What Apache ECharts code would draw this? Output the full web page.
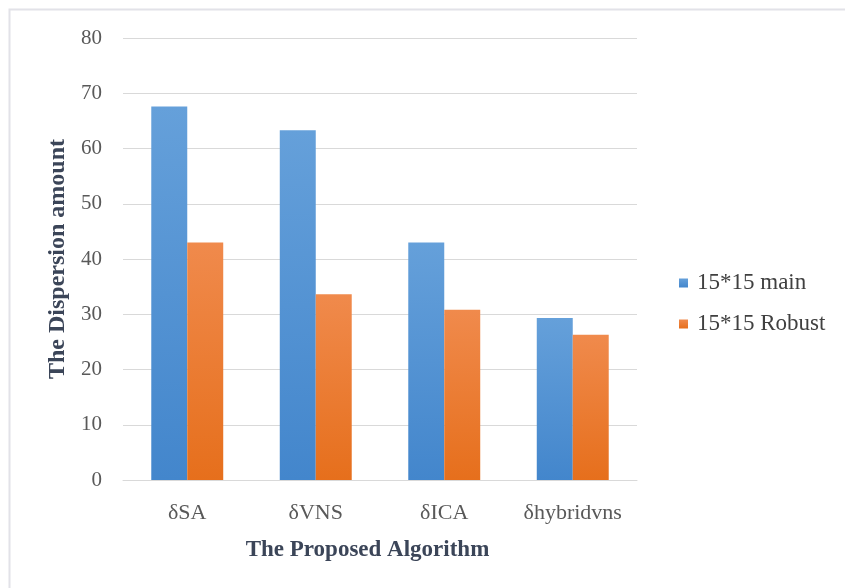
<!DOCTYPE html>
<html>
<head>
<meta charset="utf-8">
<script src="https://cdn.jsdelivr.net/npm/echarts@6/dist/echarts.min.js"></script>
<style>
  html, body { margin: 0; padding: 0; background: #ffffff; }
  #chart { width: 845px; height: 588px; }
</style>
</head>
<body>
<div id="chart"></div>
<script>
// Algorithms compared and their dispersion values
const categories = ['δSA', 'δVNS', 'δICA', 'δhybridvns'];
const mainValues = [67.6, 63.3, 43.0, 29.3];
const robustValues = [43.0, 33.6, 30.8, 26.3];
const seriesNames = ['15*15 main', '15*15 Robust'];
const yTicks = { min: 0, max: 80, interval: 10 };

const serif = '"Liberation Serif", "Times New Roman", serif';

const chart = echarts.init(document.getElementById('chart'));

function grad(top, bottom) {
  return new echarts.graphic.LinearGradient(0, 0, 0, 1, [
    { offset: 0, color: top },
    { offset: 1, color: bottom }
  ]);
}

chart.setOption({
  backgroundColor: '#ffffff',
  animation: false,
  graphic: [{
    type: 'rect',
    shape: { x: 9.5, y: 9.5, width: 900, height: 700 },
    style: { fill: 'none', stroke: '#e2e2e8', lineWidth: 2 },
    silent: true
  }],
  grid: { left: 123, right: 208, top: 38, bottom: 108 },
  legend: {
    orient: 'vertical',
    left: 674,
    top: 266,
    itemWidth: 9,
    itemHeight: 9,
    itemGap: 17,
    icon: 'rect',
    data: seriesNames,
    textStyle: { fontFamily: serif, fontSize: 23, color: '#404040', lineHeight: 24, padding: [0, 0, 0, 4] }
  },
  xAxis: {
    type: 'category',
    data: categories,
    name: 'The Proposed Algorithm',
    nameLocation: 'middle',
    nameGap: 59,
    nameTextStyle: { fontFamily: serif, fontSize: 23, fontWeight: 'bold', color: '#3b4558', padding: [0, 25, 0, 0] },
    axisLine: { show: true, lineStyle: { color: '#d9d9d9', width: 1 } },
    axisTick: { show: false },
    axisLabel: { fontFamily: serif, fontSize: 22, color: '#595959', margin: 22 }
  },
  yAxis: {
    type: 'value',
    min: yTicks.min,
    max: yTicks.max,
    interval: yTicks.interval,
    name: 'The Dispersion amount',
    nameLocation: 'middle',
    nameGap: 53,
    nameTextStyle: { fontFamily: serif, fontSize: 24, fontWeight: 'bold', color: '#3b4558' },
    axisLine: { show: false },
    axisTick: { show: false },
    splitLine: { lineStyle: { color: '#d9d9d9', width: 1 } },
    axisLabel: { fontFamily: serif, fontSize: 21, color: '#595959', margin: 21 }
  },
  series: [
    {
      name: seriesNames[0],
      type: 'bar',
      data: mainValues,
      barGap: '0%',
      barCategoryGap: '44%',
      itemStyle: { color: grad('#65a0da', '#4386cc') }
    },
    {
      name: seriesNames[1],
      type: 'bar',
      data: robustValues,
      itemStyle: { color: grad('#f08a4c', '#e66f1c') }
    }
  ]
});
</script>
</body>
</html>
